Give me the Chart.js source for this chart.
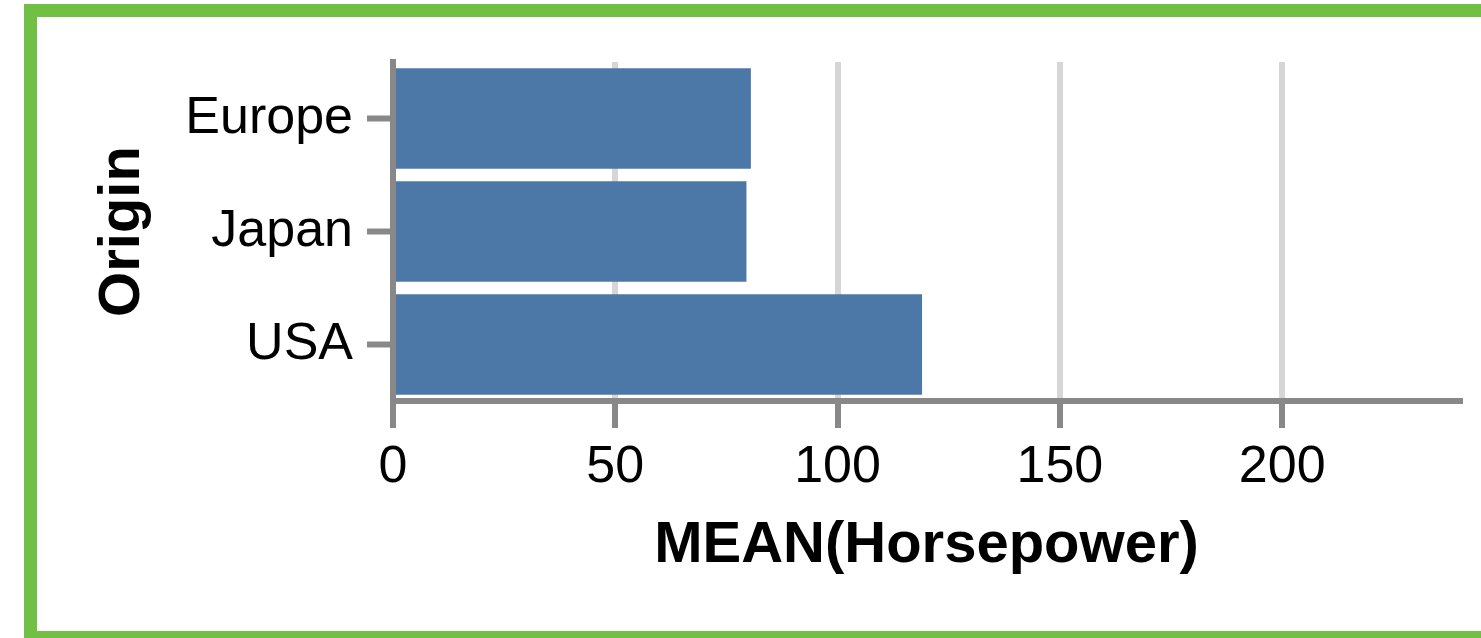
<!DOCTYPE html>
<html>
<head>
<meta charset="utf-8">
<script src="https://cdn.jsdelivr.net/npm/chart.js@4/dist/chart.umd.min.js"></script>
<style>
  html, body { margin: 0; padding: 0; background: #fff; overflow: hidden; }
  #frame {
    position: absolute; left: 24px; top: 4px;
    width: 1500px; height: 640px; box-sizing: border-box;
    border: 13px solid #71bf44;
  }
  #chart { position: absolute; left: 0; top: 0; }
</style>
</head>
<body>
<div id="frame"></div>
<canvas id="chart" width="1481" height="638"></canvas>
<script>
// Data
var origins = ['Europe', 'Japan', 'USA'];
var meanHorsepower = [80.5, 79.5, 119];
var xTicks = [0, 50, 100, 150, 200];
var xMax = 240;

var barColor = '#4c78a8';
var axisColor = '#888888';
var gridColor = '#d6d6d6';
var FONT = "'Liberation Sans', Helvetica, Arial, sans-serif";

var ctx = document.getElementById('chart');

var chart = new Chart(ctx, {
  type: 'bar',
  data: {
    labels: origins,
    datasets: [{
      label: 'MEAN(Horsepower)',
      data: meanHorsepower,
      backgroundColor: barColor,
      borderWidth: 0,
      barPercentage: 0.89,
      categoryPercentage: 1
    }]
  },
  options: {
    indexAxis: 'y',
    responsive: false,
    animation: false,
    devicePixelRatio: 1,
    layout: { padding: { left: 0, top: 62, right: 21, bottom: 0 } },
    plugins: {
      legend: { display: false },
      tooltip: { enabled: false }
    },
    scales: {
      x: {
        type: 'linear',
        min: 0,
        max: xMax,
        afterBuildTicks: function(scale) {
          scale.ticks = xTicks.map(function(v) { return { value: v }; });
        },
        ticks: {
          includeBounds: false,
          color: '#000',
          padding: 8,
          font: { family: FONT, size: 52 }
        },
        grid: {
          color: function(c) { return c.tick && c.tick.value === 0 ? 'rgba(0,0,0,0)' : gridColor; },
          lineWidth: 6,
          tickColor: axisColor,
          tickWidth: 6,
          tickLength: 27
        },
        border: { color: axisColor, width: 6 },
        title: {
          display: true,
          text: 'MEAN(Horsepower)',
          color: '#000',
          padding: { top: 0, bottom: 57 },
          font: { family: FONT, size: 58, weight: 'bold' }
        },
        afterFit: function(scale) { scale.height = 237; }
      },
      y: {
        z: 1,
        ticks: {
          color: '#000',
          padding: 14,
          font: { family: FONT, size: 52 }
        },
        grid: {
          offset: false,
          drawOnChartArea: false,
          tickColor: axisColor,
          tickWidth: 6,
          tickLength: 26
        },
        border: { color: axisColor, width: 6 },
        title: {
          display: true,
          text: 'Origin',
          color: '#000',
          padding: { top: 88, bottom: 0 },
          font: { family: FONT, size: 58, weight: 'bold' }
        },
        afterFit: function(scale) { scale.width = 393; }
      }
    }
  }
});
</script>
</body>
</html>
